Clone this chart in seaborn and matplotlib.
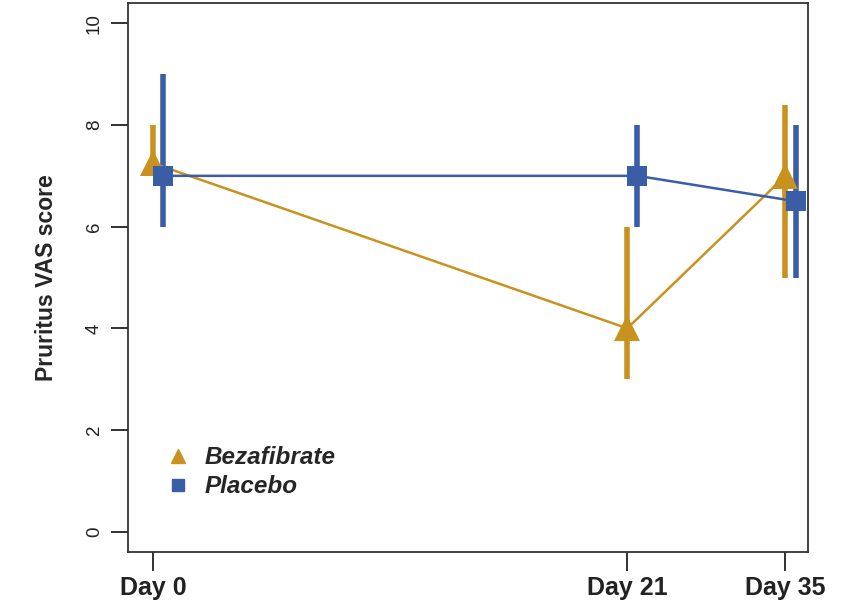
import matplotlib
matplotlib.use('Agg')
import matplotlib.pyplot as plt
import seaborn as sns
import pandas as pd
from matplotlib.lines import Line2D

# data
day_labels = ['Day 0', 'Day 21', 'Day 35']
day_pos = [0, 21, 28]
placebo_shift = 0.45

beza_mid = [7.25, 4.0, 7.0]
beza_low = [7.1, 3.0, 5.0]
beza_high = [8.0, 6.0, 8.4]

plac_mid = [7.0, 7.0, 6.5]
plac_low = [6.0, 6.0, 5.0]
plac_high = [9.0, 8.0, 8.0]

gold = '#C9921E'
blue = '#3A5DA8'

sns.set_style('white')
plt.rcParams['font.family'] = ['Liberation Sans', 'DejaVu Sans']

beza = pd.DataFrame({'x': day_pos, 'y': beza_mid, 'group': 'Bezafibrate'})
plac = pd.DataFrame({'x': [d + placebo_shift for d in day_pos], 'y': plac_mid, 'group': 'Placebo'})

fig = plt.figure(figsize=(8.44, 6.08), dpi=100)
ax = fig.add_axes([128 / 844, 56 / 608, 680 / 844, 549 / 608])

# error bars
ax.vlines(beza['x'], beza_low, beza_high, color=gold, lw=4, zorder=2)
ax.vlines(plac['x'], plac_low, plac_high, color=blue, lw=4, zorder=3)

sns.lineplot(data=beza, x='x', y='y', color=gold, lw=1.8, marker='^', markersize=19,
             markeredgewidth=0, ax=ax, zorder=4)
sns.lineplot(data=plac, x='x', y='y', color=blue, lw=1.8, marker='s', markersize=14,
             markeredgewidth=0, ax=ax, zorder=5)

ax.set_xlim(-1.1, 29.0)
ax.set_ylim(-0.4, 10.4)
ax.set_xticks(day_pos)
ax.set_xticklabels(day_labels, fontsize=18, fontweight='bold')
ax.set_yticks([0, 2, 4, 6, 8, 10])
ax.set_yticklabels(['0', '2', '4', '6', '8', '10'], fontsize=13.5, rotation=90, va='center')
ax.tick_params(axis='y', direction='out', length=12, width=1.3, left=True, pad=6, colors='#222222')
ax.tick_params(axis='x', direction='out', length=14, width=1.3, bottom=True, pad=3, colors='#222222')
ax.set_xlabel('')
ax.set_ylabel('Pruritus VAS score', fontsize=16.5, fontweight='bold', labelpad=20)
for s in ax.spines.values():
    s.set_color('#333333')
    s.set_linewidth(1.3)

handles = [Line2D([], [], ls='none', marker='^', color=gold, markersize=10),
           Line2D([], [], ls='none', marker='s', color=blue, markersize=9)]
ax.legend(handles, ['Bezafibrate', 'Placebo'], loc='center left', bbox_to_anchor=(0.055, 0.145),
          frameon=False, borderpad=0, borderaxespad=0, handlelength=1, handletextpad=0.6,
          labelspacing=0.25, prop={'size': 17.5, 'weight': 'bold', 'style': 'italic'})

fig.savefig('out.png', dpi=100)
